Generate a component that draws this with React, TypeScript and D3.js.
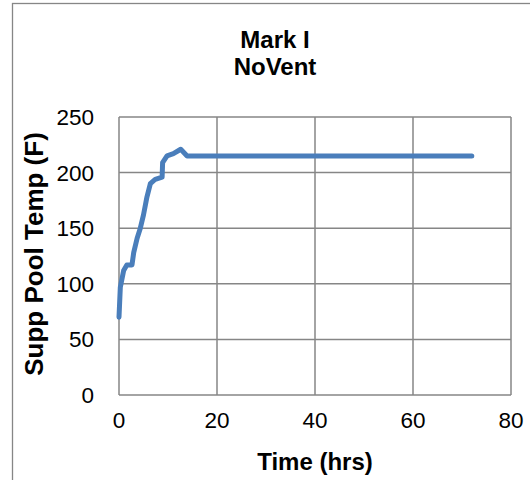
import React, { useEffect, useRef } from "react";
import * as d3 from "d3";

// readings
const timeHrs = [0, 0.1, 0.27, 0.95, 1.6, 2.65, 3.0, 3.7, 4.35, 5.0, 5.7, 6.4, 7.4, 8.8, 8.9, 9.8, 11.1, 12.6, 13.9, 20, 40, 60, 72];
const poolTemp = [70, 80, 97, 112, 117, 117, 128, 141, 150, 162, 178, 190, 194, 196, 209, 215, 217, 221, 215, 215, 215, 215, 215];

const xTicks = [0, 20, 40, 60, 80];
const yTicks = [0, 50, 100, 150, 200, 250];
const titleLines = ["Mark I", "NoVent"];

const App: React.FC = () => {
  const svgRef = useRef<SVGSVGElement | null>(null);

  useEffect(() => {
    const width = 530;
    const height = 480;
    const marginTop = 117;
    const marginRight = 19;
    const marginBottom = 85;
    const marginLeft = 119;
    const gridColor = "#868686";
    const font = "'Liberation Sans', Arial, sans-serif";

    const svg = d3.select(svgRef.current);
    svg.selectAll("*").remove();
    svg.attr("width", width).attr("height", height).attr("viewBox", [0, 0, width, height]);

    const x = d3.scaleLinear().domain([0, 80]).range([marginLeft, width - marginRight]);
    const y = d3.scaleLinear().domain([0, 250]).range([height - marginBottom, marginTop]);

    svg.append("rect").attr("width", width).attr("height", height).attr("fill", "#fff");

    // chart frame
    svg
      .append("rect")
      .attr("x", 12.5)
      .attr("y", 3.5)
      .attr("width", width + 10)
      .attr("height", height + 10)
      .attr("fill", "none")
      .attr("stroke", gridColor)
      .attr("stroke-width", 1.3);

    // gridlines
    svg
      .append("g")
      .selectAll("line")
      .data(yTicks)
      .join("line")
      .attr("x1", x(0))
      .attr("x2", x(80))
      .attr("y1", (d) => y(d))
      .attr("y2", (d) => y(d))
      .attr("stroke", gridColor)
      .attr("stroke-width", 1.5);

    svg
      .append("g")
      .selectAll("line")
      .data(xTicks)
      .join("line")
      .attr("x1", (d) => x(d))
      .attr("x2", (d) => x(d))
      .attr("y1", y(0))
      .attr("y2", y(250))
      .attr("stroke", gridColor)
      .attr("stroke-width", 1.5);

    // tick labels
    svg
      .append("g")
      .selectAll("text")
      .data(yTicks)
      .join("text")
      .attr("x", x(0) - 25)
      .attr("y", (d) => y(d) + 8)
      .attr("text-anchor", "end")
      .attr("font-family", font)
      .attr("font-size", 22.5)
      .attr("fill", "#000")
      .text((d) => d);

    svg
      .append("g")
      .selectAll("text")
      .data(xTicks)
      .join("text")
      .attr("x", (d) => x(d))
      .attr("y", y(0) + 33)
      .attr("text-anchor", "middle")
      .attr("font-family", font)
      .attr("font-size", 22.5)
      .attr("fill", "#000")
      .text((d) => d);

    // the series
    const line = d3
      .line<number>()
      .x((_, i) => x(timeHrs[i]))
      .y((d) => y(d));

    svg
      .append("path")
      .datum(poolTemp)
      .attr("d", line)
      .attr("fill", "none")
      .attr("stroke", "#4a7ebb")
      .attr("stroke-width", 5)
      .attr("stroke-linejoin", "round")
      .attr("stroke-linecap", "round");

    // titles
    svg
      .append("g")
      .selectAll("text")
      .data(titleLines)
      .join("text")
      .attr("x", 275)
      .attr("y", (_, i) => 48 + i * 27)
      .attr("text-anchor", "middle")
      .attr("font-family", font)
      .attr("font-weight", "bold")
      .attr("font-size", 24)
      .text((d) => d);

    svg
      .append("text")
      .attr("x", (x(0) + x(80)) / 2)
      .attr("y", 470)
      .attr("text-anchor", "middle")
      .attr("font-family", font)
      .attr("font-weight", "bold")
      .attr("font-size", 24)
      .text("Time (hrs)");

    svg
      .append("text")
      .attr("transform", `translate(43,${(y(0) + y(250)) / 2 - 2}) rotate(-90)`)
      .attr("text-anchor", "middle")
      .attr("font-family", font)
      .attr("font-weight", "bold")
      .attr("font-size", 26)
      .text("Supp Pool Temp (F)");
  }, []);

  return (
    <div style={{ position: "fixed", left: 0, top: 0, width: 530, height: 480 }}>
      <svg ref={svgRef}></svg>
    </div>
  );
};

export default App;
